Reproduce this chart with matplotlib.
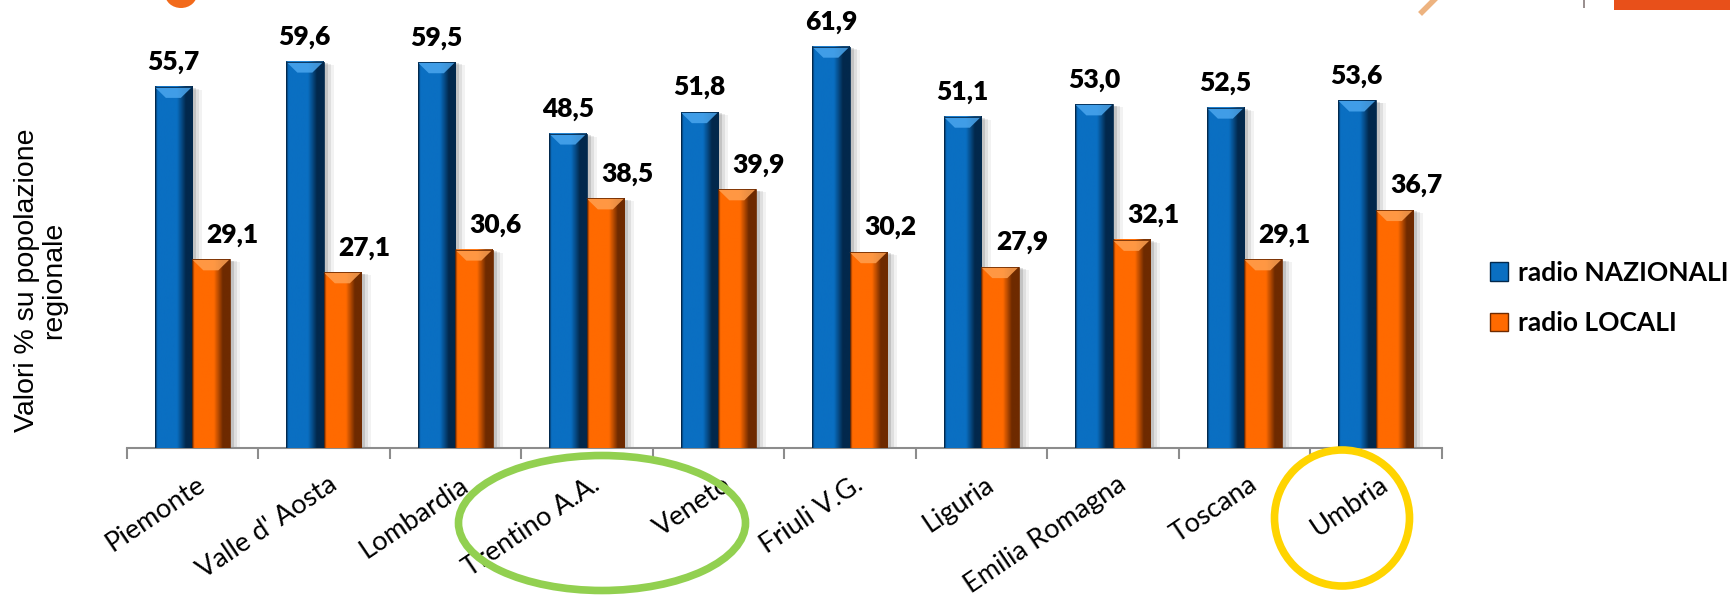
import numpy as np
import matplotlib
matplotlib.use('Agg')
import matplotlib.pyplot as plt
from matplotlib.colors import LinearSegmentedColormap
from matplotlib.patches import Ellipse, Rectangle, Polygon, Patch
from matplotlib.lines import Line2D

# Data
regions = ['Piemonte', "Valle d' Aosta", 'Lombardia', 'Trentino A.A.', 'Veneto',
           'Friuli V.G.', 'Liguria', 'Emilia Romagna', 'Toscana', 'Umbria']
nazionali = [55.7, 59.6, 59.5, 48.5, 51.8, 61.9, 51.1, 53.0, 52.5, 53.6]
locali = [29.1, 27.1, 30.6, 38.5, 39.9, 30.2, 27.9, 32.1, 29.1, 36.7]
series_names = ['radio NAZIONALI', 'radio LOCALI']

W, H = 1731, 600
fig = plt.figure(figsize=(W / 100, H / 100), dpi=100)
ax = fig.add_axes([127 / W, 1 - 448 / H, 1315 / W, 448 / H])

YMAX = 69.1
ax.set_xlim(-0.5, len(regions) - 0.5)
ax.set_ylim(0, YMAX)
px = YMAX / 448.0  # data units per pixel vertically

BLUE = ('#0a6fc2', '#02284c', '#4aa6ee')
ORANGE = ('#ff6a00', '#6e2a00', '#ffa050')
bw = 0.285


def fancy_bars(rects, cols):
    base, dark, light = cols
    cmap = LinearSegmentedColormap.from_list(
        'b', [(0, dark), (0.06, base), (0.58, base), (0.82, dark), (1, dark)])
    grad = np.linspace(0, 1, 64).reshape(1, -1)
    for r in rects:
        x, w, h = r.get_x(), r.get_width(), r.get_height()
        # soft shadow to the right
        for k, a in [(10, 0.05), (7, 0.08), (4, 0.12)]:
            dx = k / 131.5
            ax.add_patch(Rectangle((x + dx, 0), w, h - k * px * 0.3,
                                   color='black', alpha=a, lw=0, zorder=1))
        ax.imshow(grad, extent=[x, x + w, 0, h], aspect='auto', cmap=cmap,
                  zorder=3, interpolation='bilinear')
        cap = 11 * px
        ins = w * 0.3
        ax.add_patch(Polygon([(x, h), (x + w, h), (x + w - ins, h - cap), (x + ins, h - cap)],
                             closed=True, color=light, lw=0, alpha=0.85, zorder=4))
        ax.add_patch(Rectangle((x, 0), w, h, fill=False, ec=dark, lw=0.6, zorder=5))


xs = np.arange(len(regions))
b1 = ax.bar(xs - 0.29, nazionali, bw, align='edge', color=BLUE[0], zorder=2)
b2 = ax.bar(xs - 0.005, locali, bw, align='edge', color=ORANGE[0], zorder=2)
fancy_bars(b1, BLUE)
fancy_bars(b2, ORANGE)
ax.set_xlim(-0.5, len(regions) - 0.5)
ax.set_ylim(0, YMAX)

lab_font = dict(family='Lato', weight='heavy', fontsize=19, color='black')
for r, v in zip(b1, nazionali):
    ax.annotate(f'{v:.1f}'.replace('.', ','), (r.get_x() + r.get_width() / 2, v),
                xytext=(0, 17), textcoords='offset pixels', ha='center', va='baseline', **lab_font)
for r, v in zip(b2, locali):
    ax.annotate(f'{v:.1f}'.replace('.', ','), (r.get_x() + r.get_width() / 2, v),
                xytext=(22, 17), textcoords='offset pixels', ha='center', va='baseline', **lab_font)

# axis styling
for s in ['top', 'right', 'left']:
    ax.spines[s].set_visible(False)
ax.spines['bottom'].set_color('#8c8c8c')
ax.spines['bottom'].set_linewidth(1.5)
ax.set_yticks([])
ax.set_xticks(np.arange(-0.5, len(regions), 1.0))
ax.set_xticklabels([])
ax.tick_params(axis='x', length=8, width=1.5, color='#8c8c8c', direction='out')
ax.patch.set_alpha(0)

for i, name in enumerate(regions):
    ax.annotate(name, (i, 0), xytext=(3, -24), textcoords='offset pixels',
                rotation=34, rotation_mode='anchor', ha='right', va='top',
                family='Lato', fontsize=19.5, color='black', annotation_clip=False)

fig.text(41 / W, 1 - 280 / H, 'Valori % su popolazione\nregionale', rotation=90,
         ha='center', va='center', family='Liberation Sans', fontsize=20.5, linespacing=1.05,
         multialignment='center')

# legend
handles = [Patch(facecolor=BLUE[0], edgecolor=BLUE[1]),
           Patch(facecolor=ORANGE[0], edgecolor=ORANGE[1])]
fig.legend(handles, series_names, loc='center left', bbox_to_anchor=(1466 / W, 1 - 298 / H),
           frameon=False, handlelength=0.68, handleheight=0.68, handletextpad=0.4,
           labelspacing=1.0, prop=dict(family='Lato', weight='bold', size=19))

# highlight rings drawn on the slide
fig.add_artist(Ellipse((602 / W, 1 - 523 / H), 287 / W, 135 / H, transform=fig.transFigure,
                       fill=False, ec='#92d050', lw=5.5, zorder=10))
fig.add_artist(Ellipse((1342 / W, 1 - 518 / H), 135 / W, 136 / H, transform=fig.transFigure,
                       fill=False, ec='#ffd400', lw=5.5, zorder=10))

# slide fragments at the top edge
fig.add_artist(Ellipse((181 / W, 1 + 6 / H), 32 / W, 28 / H, transform=fig.transFigure,
                       color='#f26a1b', lw=0))
fig.add_artist(Line2D([1422 / W, 1434 / W], [1 - 12 / H, 1], transform=fig.transFigure,
                      color='#e9a060', lw=4, alpha=0.8))
fig.add_artist(Rectangle((1614 / W, 1 - 10 / H), 117 / W, 10 / H, transform=fig.transFigure,
                         color='#e8501a', lw=0))
fig.add_artist(Rectangle((1583 / W, 1 - 8 / H), 2 / W, 8 / H, transform=fig.transFigure,
                         color='#9a9090', lw=0))

fig.savefig('out.png', dpi=100)
